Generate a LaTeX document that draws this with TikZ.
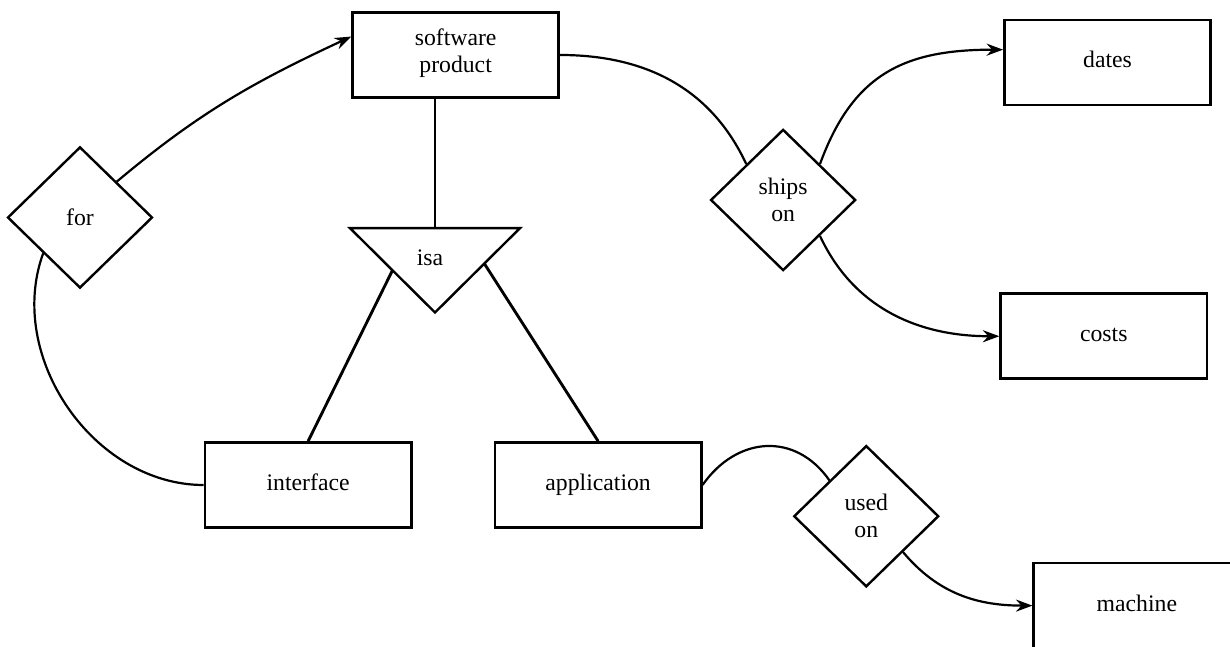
\documentclass[tikz,border=0pt]{standalone}
\usepackage{fontspec}
\setmainfont{Liberation Serif}
\usepackage{tikz}
\usetikzlibrary{calc,shapes.geometric,arrows.meta}
\tikzset{entity/.style={draw,line width=1.2pt,minimum width=3.3cm,minimum height=1.36cm,align=center,execute at begin node=\strut}}
\tikzset{relation/.style={draw,diamond,line width=1.1pt,minimum width=2.32cm,minimum height=2.26cm,inner sep=0pt,align=center}}
\tikzset{link/.style={line width=#1},link/.default=1pt}

\begin{document}
\begin{tikzpicture}[font=\fontsize{10.8}{12.4}\selectfont,>={Stealth[length=7.5pt,width=5.5pt,inset=2.5pt]}]

	\useasboundingbox (0,0) rectangle (19.68,10.34);

	% As entidades
	\node [entity] (sw)      at (7.29,9.46)  {software\\product};
	\node [entity] (dates)   at (17.72,9.34) {dates};
	\node [entity] (costs)   at (17.66,4.96) {costs};
	\node [entity] (iface)   at (4.93,2.58)  {interface};
	\node [entity] (app)     at (9.57,2.58)  {application};
	\node [entity] (machine) at (18.19,0.65) {machine};

	% Os relacionamentos
	\node [relation] (for)   at (1.28,6.86)  {for};
	\node [relation] (ships) at (12.53,7.14) {ships\\on};
	\node [relation] (used)  at (13.86,2.08) {used\\on};

	% O triangulo "isa"
	\coordinate (isa-l) at (5.60,6.69);
	\coordinate (isa-r) at (8.32,6.69);
	\coordinate (isa-b) at (6.96,5.34);
	\coordinate (isa-t) at (6.96,6.69);
	\draw [link=1.1pt] (isa-l) -- (isa-r) -- (isa-b) -- cycle;
	\node (isa) at (6.88,6.22) {isa};

	% A especializacao
	\draw [link=1.1pt] (isa-t) -- (isa-t |- sw.south);
	\draw [link=1.3pt] ($(isa-l)!0.5!(isa-b)$) -- (iface.north);
	\draw [link=1.3pt] ($(isa-r)!0.42!(isa-b)$) -- (app.north);

	% Flechas de "for"
	\draw [link,->] (for.north east) to[out=40,in=205] (sw.170);
	\draw [link] (for.south west) to[out=250,in=180] (iface.west);

	% Flechas de "ships on"
	\draw [link] (sw.east) to[out=0,in=115] (ships.north west);
	\draw [link,->] (ships.north east) to[out=70,in=180,looseness=1.15] (dates.173);
	\draw [link,->] (ships.south east) to[out=-65,in=180] (costs.west);

	% Flechas de "used on"
	\draw [link] (app.east) to[out=55,in=125,looseness=1.2] (used.north west);
	\draw [link,->] (used.south east) to[out=-50,in=180] (machine.west);

\end{tikzpicture}
\end{document}
